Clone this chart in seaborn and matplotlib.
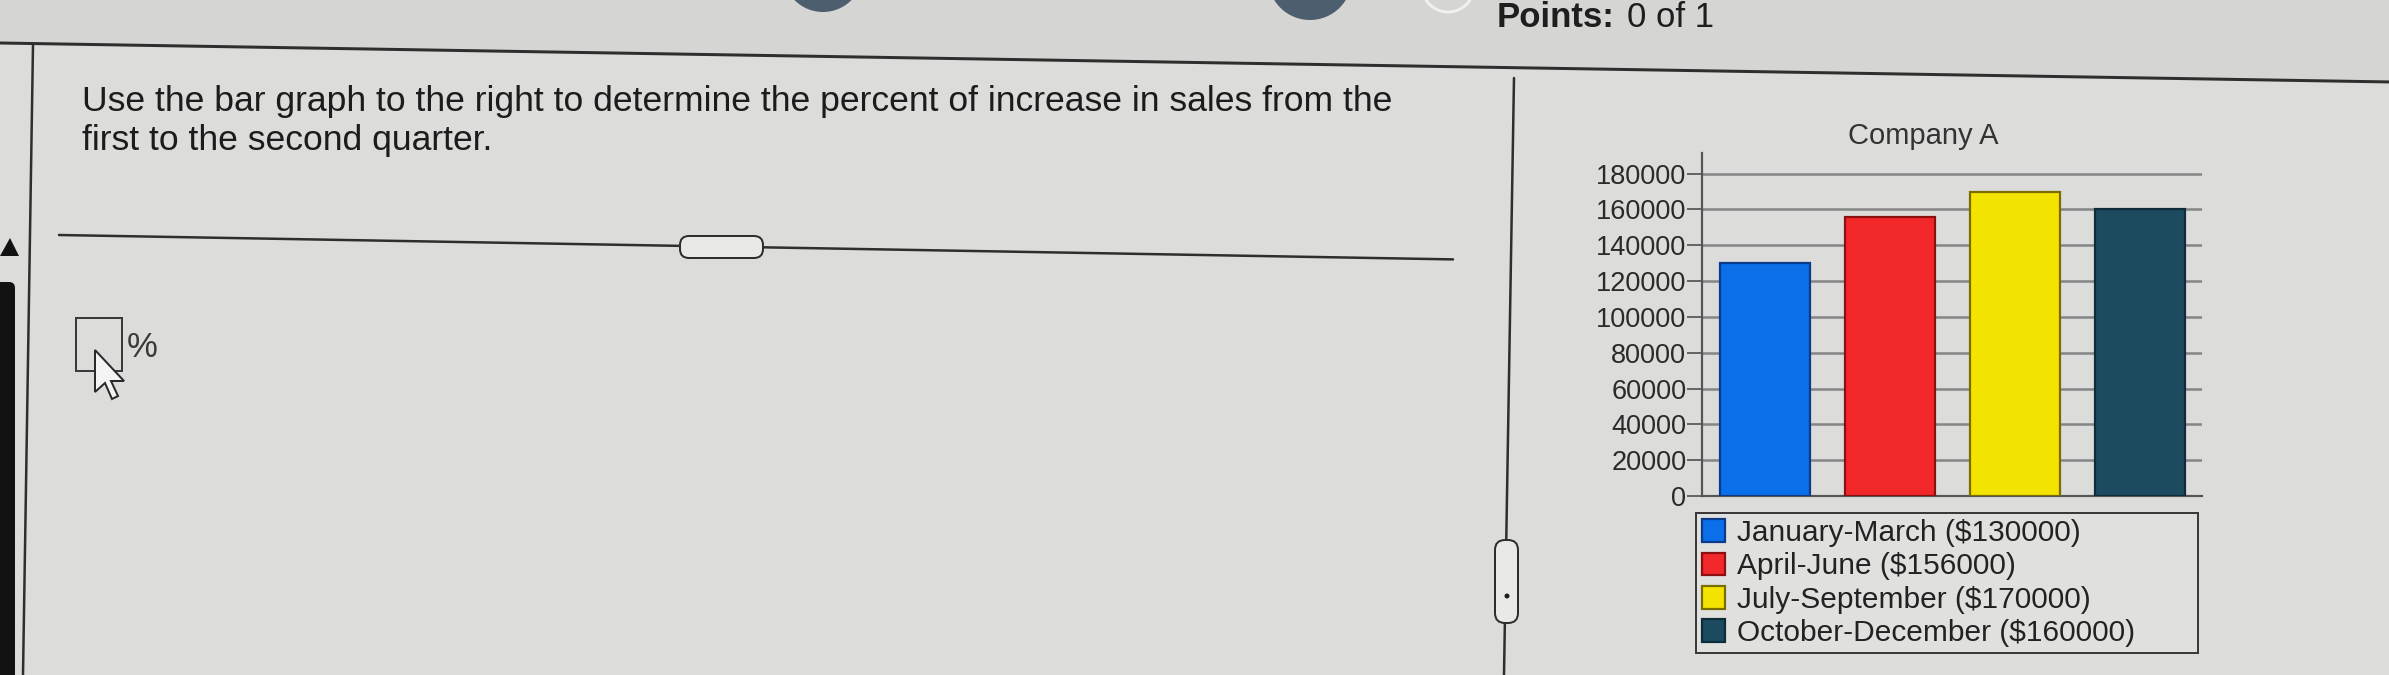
import matplotlib
matplotlib.use("Agg")
import matplotlib.pyplot as plt
import seaborn as sns
import pandas as pd
import numpy as np
from matplotlib.patches import Polygon, Rectangle, FancyBboxPatch, Circle

# ---------------- data ----------------
quarters = ["January-March", "April-June", "July-September", "October-December"]
sales = [130000, 156000, 170000, 160000]
bar_colors = ["#0a6fe8", "#f2272a", "#f3e300", "#1c4a5f"]
edge_colors = ["#0b3a8a", "#8c1010", "#7a6c00", "#0f2c3a"]
ytick_values = [0, 20000, 40000, 60000, 80000, 100000, 120000, 140000, 160000, 180000]
ytick_labels = ["0", "20000", "40000", "60000", "80000", "100000", "120000", "140000", "160000", "180000"]
chart_title = "Company A"
question_lines = ["Use the bar graph to the right to determine the percent of increase in sales from the",
                  "first to the second quarter."]

W, H = 2389, 675
BG = "#dcdcda"

sns.set_theme(style="white")
plt.rcParams["font.family"] = ["Liberation Sans", "DejaVu Sans"]

fig = plt.figure(figsize=(W / 100, H / 100), dpi=100, facecolor=BG)

# background / decoration axes in pixel coordinates
bg = fig.add_axes([0, 0, 1, 1], zorder=0)
bg.set_xlim(0, W)
bg.set_ylim(H, 0)
bg.axis("off")
bg.set_facecolor(BG)

def px(v):  # pixels -> points
    return v * 72 / 100

slope = 0.0163
# top strip & circles
bg.add_patch(Polygon([[0, 0], [W, 0], [W, 43 + W * slope], [0, 43]], closed=True,
                     facecolor="#d5d5d3", edgecolor="none", zorder=0))
bg.add_patch(Circle((823, -28), 40, facecolor="#4d5e6e", edgecolor="none", zorder=1))
bg.add_patch(Circle((1310, -22), 42, facecolor="#4d5e6e", edgecolor="none", zorder=1))
bg.add_patch(Circle((1448, -14), 26, facecolor="none", edgecolor="#f0f0f0", lw=px(3), zorder=1))
bg.plot([0, W], [43, 43 + W * slope], color="#2e2e2e", lw=px(3), zorder=2)
bg.text(1497, 27, "Points:", fontsize=25, fontweight="bold", color="#1e1e1e",
        ha="left", va="baseline", zorder=3)
bg.text(1627, 27, "0 of 1", fontsize=25, color="#1e1e1e", ha="left", va="baseline", zorder=3)

# left frame line and dark strip
bg.plot([33, 23], [45, H], color="#2e2e2e", lw=px(2.5), zorder=2)
bg.add_patch(FancyBboxPatch((-10, 282), 25, 420, boxstyle="round,pad=0,rounding_size=6",
                            facecolor="#121212", edgecolor="none", zorder=2))
bg.add_patch(Polygon([[0, 256], [10, 238], [19, 256]], closed=True, facecolor="#121212",
                     edgecolor="none", zorder=2))

# vertical divider with handle
bg.plot([1514, 1504], [78, H], color="#2e2e2e", lw=px(2.5), zorder=2)
bg.add_patch(FancyBboxPatch((1495, 540), 23, 83, boxstyle="round,pad=0,rounding_size=10",
                            facecolor="#e9e9e7", edgecolor="#2e2e2e", lw=px(2), zorder=3))
bg.add_patch(Circle((1507, 596), 2.5, facecolor="#1e1e1e", edgecolor="none", zorder=4))

# horizontal divider with handle
bg.plot([59, 1453], [235, 235 + 1394 * 0.0175], color="#2e2e2e", lw=px(2.5), zorder=2)
bg.add_patch(FancyBboxPatch((680, 236), 83, 22, boxstyle="round,pad=0,rounding_size=9",
                            facecolor="#e9e9e7", edgecolor="#2e2e2e", lw=px(2), zorder=3))

# answer box, percent sign and cursor
bg.add_patch(Rectangle((76, 318), 46, 53, facecolor="none", edgecolor="#3a3a3a", lw=px(2), zorder=3))
bg.text(127, 357, "%", fontsize=25, color="#3a3a3a", ha="left", va="baseline", zorder=3)
cursor = [[95, 350], [95, 392], [105, 383], [112, 399], [118, 396], [111, 381], [124, 381]]
bg.add_patch(Polygon(cursor, closed=True, facecolor="#f4f4f4", edgecolor="#2a2a2a",
                     lw=px(2), zorder=4))

# question text, fitted to the measured width
renderer = fig.canvas.get_renderer()
t1 = bg.text(82, 111, question_lines[0], fontsize=21, color="#1c1c1c", ha="left",
             va="baseline", zorder=3)
w = t1.get_window_extent(renderer).width
fs_q = 21 * 1310 / w
t1.set_fontsize(fs_q)
bg.text(82, 150, question_lines[1], fontsize=fs_q, color="#1c1c1c", ha="left",
        va="baseline", zorder=3)

# ---------------- chart ----------------
ax_left, ax_right, ax_top, ax_bottom = 1702, 2202, 153, 496
ax = fig.add_axes([ax_left / W, 1 - ax_bottom / H, (ax_right - ax_left) / W, (ax_bottom - ax_top) / H],
                  zorder=2)
ax.patch.set_alpha(0)

df = pd.DataFrame({"quarter": quarters, "sales": sales})
sns.barplot(data=df, x="quarter", y="sales", hue="quarter", palette=bar_colors,
            order=quarters, hue_order=quarters, width=0.72, dodge=False, legend=False,
            saturation=1, ax=ax, zorder=3)
bars = sorted(ax.patches, key=lambda p: p.get_x())
for b, ec in zip(bars, edge_colors):
    b.set_edgecolor(ec)
    b.set_linewidth(px(2.2))

ax.set_xlim(-0.5, 3.5)
ax.set_ylim(0, 191500)
ax.set_yticks(ytick_values)
ax.set_yticklabels(ytick_labels)
ax.set_xticks([])
ax.set_xlabel("")
ax.set_ylabel("")
ax.yaxis.grid(True, color="#858585", lw=px(2.5))
ax.set_axisbelow(True)
for s in ["top", "right"]:
    ax.spines[s].set_visible(False)
for s in ["left", "bottom"]:
    ax.spines[s].set_color("#555555")
    ax.spines[s].set_linewidth(px(2.2))
ax.tick_params(axis="y", length=px(15), width=px(2), color="#666666", pad=0.5,
               labelsize=19.5, labelcolor="#2a2a2a", left=True)

fig.text(1923 / W, 1 - 136 / H, chart_title, fontsize=21, color="#333333",
         ha="center", va="center")

labels = [f"{q} (\\${v})" for q, v in zip(quarters, sales)]
leg_x0, leg_x1, leg_y0, leg_y1 = 1696, 2198, 513, 650
leg = fig.legend(bars, labels, loc="upper left",
                 bbox_to_anchor=(leg_x0 / W, 1 - leg_y1 / H, (leg_x1 - leg_x0) / W, (leg_y1 - leg_y0) / H),
                 mode="expand", fontsize=21.5, frameon=True, fancybox=False, framealpha=1,
                 facecolor="#e0e0de", edgecolor="#3a3a3a", borderpad=0.2, labelspacing=0.18,
                 handlelength=0.77, handleheight=0.8, handletextpad=0.4, borderaxespad=0)
leg.get_frame().set_linewidth(px(2))
for t in leg.get_texts():
    t.set_color("#222222")

fig.savefig("out.png", dpi=100, facecolor=BG)
